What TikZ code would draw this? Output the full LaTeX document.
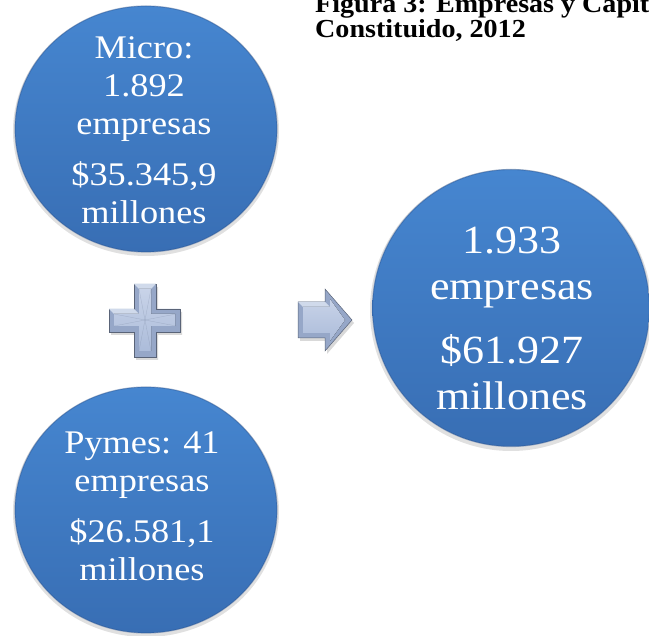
\documentclass[tikz,border=0pt]{standalone}
\usepackage{fontspec}
\setmainfont{Liberation Serif}
\newfontfamily\garfont[FakeStretch=1.1]{Liberation Serif}
\newfontfamily\titfont[FakeStretch=1.08]{Liberation Serif}
\usetikzlibrary{shapes.geometric}
\definecolor{bluetop}{RGB}{70,134,208}
\definecolor{bluebot}{RGB}{56,110,180}
\definecolor{blueedge}{RGB}{40,80,140}
\definecolor{steeldark}{RGB}{150,167,200}
\definecolor{steellight}{RGB}{200,211,232}
\definecolor{steelmid}{RGB}{172,188,218}
\tikzset{
  bubble/.style={ellipse, inner sep=0pt, top color=bluetop, bottom color=bluebot,
    draw=blueedge, draw opacity=0.4, line width=1.2pt},
  bubbleshadow/.style={ellipse, inner sep=0pt, fill=black, fill opacity=0.12},
  bubbletext/.style={text=white, align=center, inner sep=0pt},
  bevelout/.style={fill=steeldark, draw=steeldark!60!black, line width=0.5pt},
  bevelin/.style={top color=steellight, bottom color=steelmid, draw=none},
  shapeshadow/.style={fill=black, fill opacity=0.15},
  titletext/.style={anchor=base west, inner sep=0pt, font=\titfont\bfseries\fontsize{26}{30}\selectfont}
}
\begin{document}
\begin{tikzpicture}[x=1pt,y=-1pt]
\useasboundingbox (0,0) rectangle (649,636);
\clip (0,0) rectangle (649,636);
% shadows
\node[bubbleshadow, minimum width=266pt, minimum height=250pt] (microsh) at (146,131) {};
\node[bubbleshadow, minimum width=266pt, minimum height=250pt] (pymesh) at (146,512) {};
\node[bubbleshadow, minimum width=282pt, minimum height=282pt] (totsh) at (511,310) {};
% circles
\node[bubble, minimum width=262pt, minimum height=246pt] (micro) at (146,129) {};
\node[bubble, minimum width=262pt, minimum height=246pt] (pymes) at (146,510) {};
\node[bubble, minimum width=277pt, minimum height=277pt] (total) at (511,308) {};
% texts
\node[bubbletext, font=\garfont\fontsize{33}{38}\selectfont] (microtxt) at (144,130)
  {Micro:\\1.892\\empresas\\[13pt]\$35.345,9\\millones};
\node[bubbletext, font=\garfont\fontsize{33}{38}\selectfont] (pymestxt) at (142,506)
  {Pymes: 41\\empresas\\[13pt]\$26.581,1\\millones};
\node[bubbletext, font=\garfont\fontsize{40}{46}\selectfont] (totaltxt) at (512,318)
  {1.933\\empresas\\[18pt]\$61.927\\millones};
% plus sign
\coordinate (plusc) at (145,320);
\fill[shapeshadow] ([shift={(2,3)}]plusc) ++(-11,-36) -- ++(22,0) -- ++(0,25) -- ++(24,0) -- ++(0,23) -- ++(-24,0) -- ++(0,25) -- ++(-22,0) -- ++(0,-25) -- ++(-25,0) -- ++(0,-23) -- ++(25,0) -- cycle;
\draw[bevelout] (plusc) ++(-11,-36) -- ++(22,0) -- ++(0,25) -- ++(24,0) -- ++(0,23) -- ++(-24,0) -- ++(0,25) -- ++(-22,0) -- ++(0,-25) -- ++(-25,0) -- ++(0,-23) -- ++(25,0) -- cycle;
\fill[steellight!85!white] (plusc) ++(-11,-36) -- ++(22,0) -- ++(-5,5) -- ++(-12,0) -- cycle;
\fill[steellight!85!white] (plusc) ++(-36,-11) -- ++(25,0) -- ++(5,5) -- ++(-25,0) -- cycle;
\fill[bevelin] (plusc) ++(-6,-31) -- ++(12,0) -- ++(0,25) -- ++(24,0) -- ++(0,12) -- ++(-24,0) -- ++(0,25) -- ++(-12,0) -- ++(0,-25) -- ++(-25,0) -- ++(0,-12) -- ++(25,0) -- cycle;
\draw[steeldark!80!black, line width=0.3pt, opacity=0.4] (plusc) ++(-6,-31) -- (plusc) -- ++(6,-31);
\draw[steeldark!80!black, line width=0.3pt, opacity=0.4] (plusc) ++(-6,31) -- (plusc) -- ++(6,31);
\draw[steeldark!80!black, line width=0.3pt, opacity=0.4] (plusc) ++(-31,-6) -- (plusc) -- ++(-31,6);
\draw[steeldark!80!black, line width=0.3pt, opacity=0.4] (plusc) ++(31,-6) -- (plusc) -- ++(31,6);
% arrow
\coordinate (arrc) at (298,320);
\fill[shapeshadow] ([shift={(2,3)}]arrc) ++(0,-18) -- ++(27,0) -- ++(0,-13) -- ++(27,31) -- ++(-27,31) -- ++(0,-13) -- ++(-27,0) -- cycle;
\draw[bevelout] (arrc) ++(0,-18) -- ++(27,0) -- ++(0,-13) -- ++(27,31) -- ++(-27,31) -- ++(0,-13) -- ++(-27,0) -- cycle;
\fill[steellight!85!white] (arrc) ++(0,-18) -- ++(27,0) -- ++(5,5) -- ++(-27,0) -- cycle;
\fill[bevelin] (arrc) ++(5,-13) -- ++(27,0) -- ++(0,-8) -- ++(15,21) -- ++(-15,21) -- ++(0,-8) -- ++(-27,0) -- cycle;
% title
\node[titletext] (tit1) at (315,13) {Figura 3: Empresas y Capital};
\node[titletext] (tit2) at (315,38) {Constituido, 2012};
\end{tikzpicture}
\end{document}
